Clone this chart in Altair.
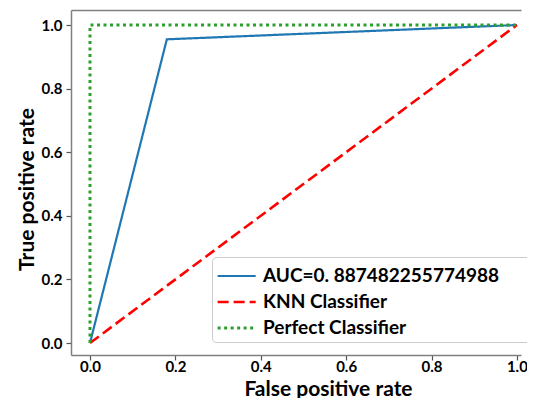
import altair as alt
import pandas as pd

series_names = ["AUC=0. 887482255774988", "KNN Classifier", "Perfect Classifier"]
series_colors = ["#1f77b4", "#ff0000", "#2ca02c"]

knn_fpr = [0.0, 0.18, 1.0]
knn_tpr = [0.0, 0.955, 1.0]
chance_fpr = [0.0, 1.0]
chance_tpr = [0.0, 1.0]
perfect_fpr = [0.0, 0.0, 1.0]
perfect_tpr = [0.0, 1.0, 1.0]
tick_values = [0.0, 0.2, 0.4, 0.6, 0.8, 1.0]

rows = []
for name, xs, ys in zip(series_names, [knn_fpr, chance_fpr, perfect_fpr], [knn_tpr, chance_tpr, perfect_tpr]):
    for i, (a, b) in enumerate(zip(xs, ys)):
        rows.append({"series": name, "fpr": a, "tpr": b, "idx": i})
df = pd.DataFrame(rows)

x_scale = alt.Scale(domain=[-0.0445, 1.0096], nice=False, zero=False)
y_scale = alt.Scale(domain=[-0.0377, 1.0472], nice=False, zero=False)

legend_title = "M"
leg = alt.Legend(
    orient="none", legendX=141, legendY=247,
    symbolType="M-0.99,0H1.83", symbolSize=729,
    labelFont="Lato", labelFontWeight="bold", labelFontSize=19, labelColor="black",
    labelLimit=400, labelOffset=17, padding=4, rowPadding=1,
    strokeColor="#cccccc", fillColor="white", cornerRadius=4,
    titleOrient="right", titleFontSize=19, titlePadding=12, titleOpacity=0,
)

base = alt.Chart(df)

lines = base.mark_line(strokeCap="butt").encode(
    x=alt.X("fpr:Q", scale=x_scale,
            axis=alt.Axis(values=tick_values, format=".1f", title="False positive rate",
                          labelPadding=-1, titleX=257, titleY=40,
                          titleBaseline="alphabetic", titleAlign="center")),
    y=alt.Y("tpr:Q", scale=y_scale,
            axis=alt.Axis(values=tick_values, format=".1f", title="True positive rate",
                          labelPadding=4, titleX=-38, titleY=179, titleAngle=270,
                          titleBaseline="alphabetic", titleAlign="center")),
    color=alt.Color("series:N", title=legend_title,
                    scale=alt.Scale(domain=series_names, range=series_colors),
                    sort=series_names, legend=leg),
    strokeDash=alt.StrokeDash("series:N", title=legend_title,
                              scale=alt.Scale(domain=series_names, range=[[1, 0], [11, 5], [3, 3.5]]),
                              sort=series_names, legend=leg),
    strokeWidth=alt.StrokeWidth("series:N", title=legend_title,
                                scale=alt.Scale(domain=series_names, range=[2.2, 3, 3]),
                                sort=series_names, legend=leg),
    order="idx:Q",
)

top_spine = base.mark_point(opacity=0).encode(
    x=alt.X("fpr:Q", scale=x_scale,
            axis=alt.Axis(orient="top", labels=False, ticks=False, title="")),
    y=alt.Y("tpr:Q", scale=y_scale, axis=None),
)

chart = alt.layer(lines, top_spine).resolve_axis(
    x="independent", y="independent"
).properties(
    width=450, height=345,
    autosize=alt.AutoSizeParams(type="none"),
    padding={"left": 63, "top": 2, "right": 6, "bottom": 43},
).configure_view(
    stroke=None
).configure_axis(
    labelFont="Lato", labelFontWeight="bold", labelFontSize=15, labelColor="black",
    titleFont="Lato", titleFontWeight="bold", titleFontSize=21, titleColor="black",
    grid=False, domain=True, domainColor="#808080", domainWidth=1.5,
    tickColor="#555555", tickSize=5, tickWidth=1.2,
)

chart.save("out.html", embed_options={"renderer": "svg", "actions": False})
